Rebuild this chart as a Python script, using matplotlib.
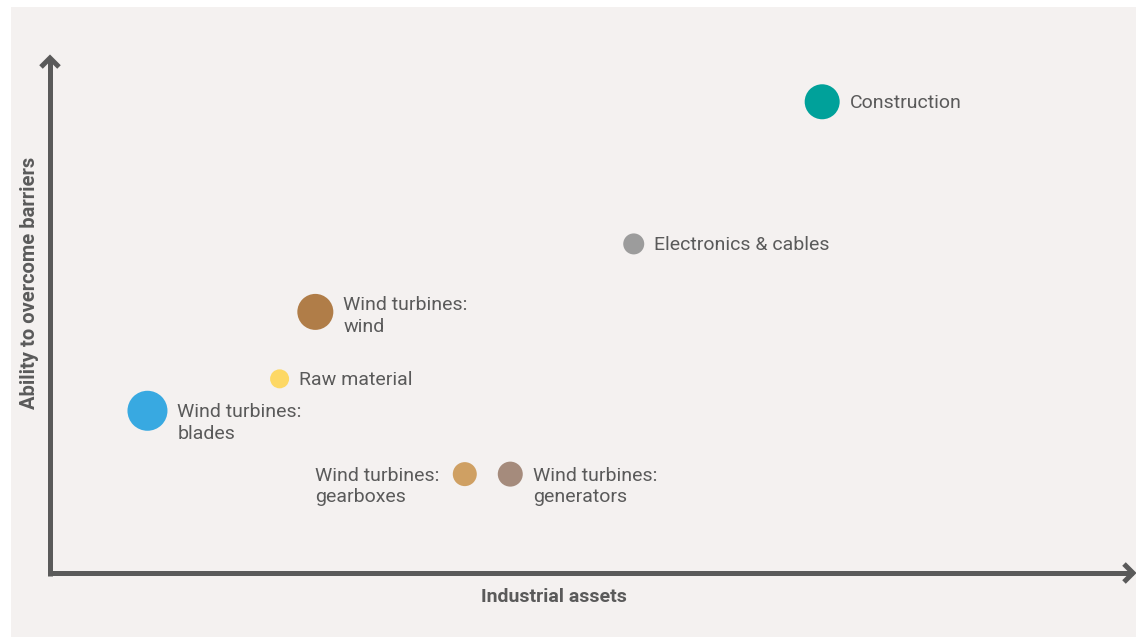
import matplotlib
matplotlib.use("Agg")
import matplotlib.pyplot as plt
from matplotlib.patches import Rectangle

# ---- data ----
categories = ["Construction", "Electronics & cables", "Wind turbines:\nwind", "Raw material",
              "Wind turbines:\nblades", "Wind turbines:\ngearboxes", "Wind turbines:\ngenerators"]
industrial_assets = [71.3, 53.9, 24.5, 21.2, 9.0, 38.3, 42.5]
ability = [91.5, 63.9, 50.7, 37.7, 31.5, 19.2, 19.2]
bubble_size = [35, 21, 36, 19, 40, 24, 25]
x_label = "Industrial assets"
y_label = "Ability to overcome barriers"

# ---- style ----
colors = ["#00a19a", "#9c9c9c", "#b07d48", "#fdd865", "#38a9e1", "#cfa063", "#a58b7c"]
label_side = ["right", "right", "right", "right", "right", "left", "right"]
label_dy = [0, 0, -8, 0, 0, 0, 0]   # pixel shift of first line relative to marker
text_color = "#5a5a5a"
axis_color = "#5a5a5a"
panel_color = "#f4f1f0"

plt.rcParams['font.family'] = ['Roboto', 'DejaVu Sans']

W, H = 1136, 637
fig = plt.figure(figsize=(W / 100, H / 100), dpi=100)
fig.patch.set_facecolor("white")
fig.add_artist(Rectangle((11 / W, 0), 1 - 11 / W, 1 - 7 / H, transform=fig.transFigure,
                         facecolor=panel_color, edgecolor="none", zorder=0))

x0, y0, x1, y1 = 50, 573, 1133, 58
ax = fig.add_axes([x0 / W, (H - y0) / H, (x1 - x0) / W, (y0 - y1) / H])
ax.set_xlim(0, 100)
ax.set_ylim(0, 100)
ax.set_facecolor("none")
ax.axis("off")

lw = 3.6
px_x = 100 / (x1 - x0)
px_y = 100 / (y0 - y1)
# axis lines
ax.plot([-2.5 * px_x, 100], [0, 0], color=axis_color, lw=lw, solid_capstyle="butt", clip_on=False)
ax.plot([0, 0], [-2.5 * px_y, 100], color=axis_color, lw=lw, solid_capstyle="butt", clip_on=False)
# chevron arrow heads
ax.plot([100 - 9 * px_x, 100, 100 - 9 * px_x], [9 * px_y, 0, -9 * px_y], color=axis_color,
        lw=lw, solid_joinstyle="miter", solid_capstyle="butt", clip_on=False)
ax.plot([-9 * px_x, 0, 9 * px_x], [100 - 9 * px_y, 100, 100 - 9 * px_y], color=axis_color,
        lw=lw, solid_joinstyle="miter", solid_capstyle="butt", clip_on=False)

sizes = [(d * 0.72) ** 2 for d in bubble_size]
ax.scatter(industrial_assets, ability, s=sizes, c=colors, edgecolors="none", zorder=3, clip_on=False)

for xi, yi, name, d, side, dy in zip(industrial_assets, ability, categories, bubble_size, label_side, label_dy):
    if side == "right":
        off = (d / 2 + 10) * 0.72
        ha = "right" if False else "left"
    else:
        off = -(d / 2 + 13) * 0.72
        ha = "right"
    ax.annotate(name, (xi, yi), xytext=(off, (7.5 - dy) * 0.72), textcoords="offset points",
                ha=ha, va="top", multialignment="left", fontsize=14, color=text_color,
                linespacing=1.25)

fig.text(554 / W, 1 - 597 / H, x_label, ha="center", va="center", fontsize=14,
         fontweight="bold", color=text_color)
fig.text(30 / W, 1 - 283 / H, y_label, ha="center", va="center", rotation=90, fontsize=14.5,
         fontweight="bold", color=text_color)

fig.savefig("out.png", dpi=100, facecolor="white")
